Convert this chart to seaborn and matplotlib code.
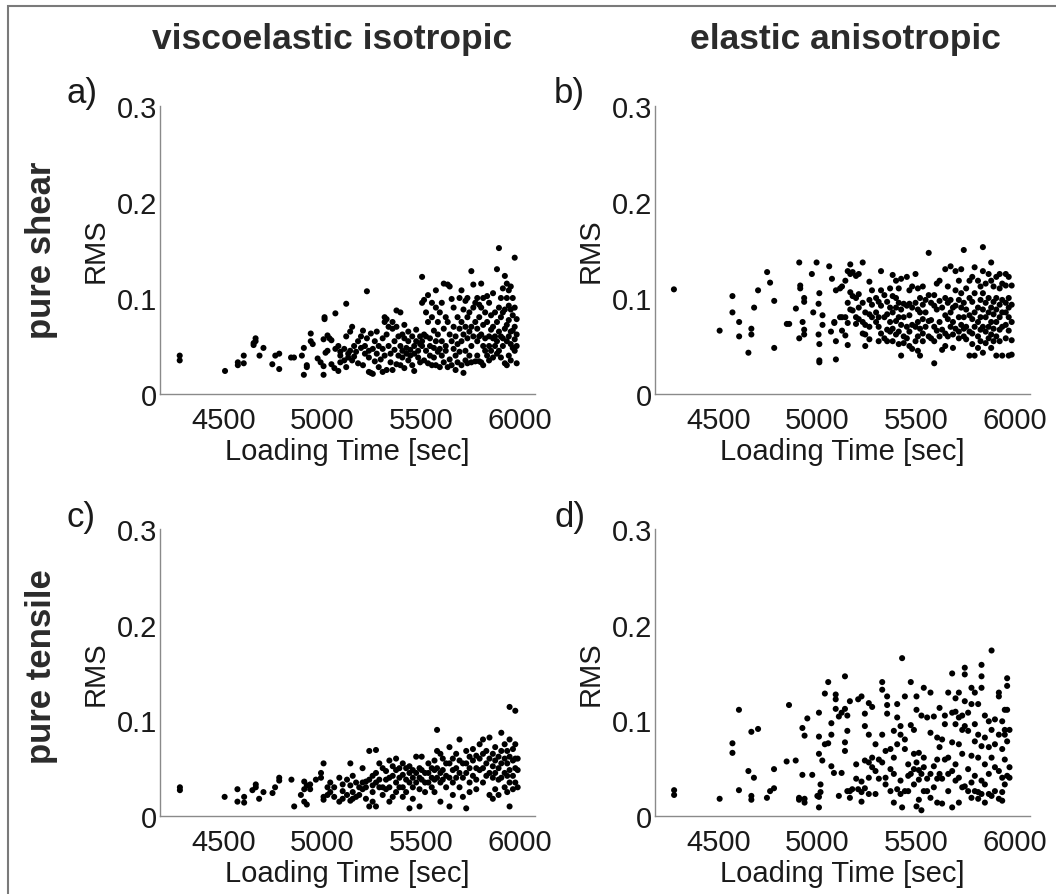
import matplotlib
matplotlib.use("Agg")
import matplotlib.pyplot as plt
import pandas as pd
import seaborn as sns
from matplotlib.patches import Rectangle

# ---------------------------------------------------------------------------
# Data: loading time [s] and the RMS values recorded at that time
# ---------------------------------------------------------------------------
# a) pure shear, viscoelastic isotropic
a_time = [4275, 4505, 4570, 4600, 4650, 4660, 4680, 4700, 4745, 4760, 4780, 4840, 4855,
          4895, 4905, 4920, 4940, 4950, 4975, 4990,
          5005, 5010, 5015, 5025, 5035, 5045, 5060, 5065, 5080, 5090,
          5110, 5120, 5130, 5140, 5150, 5160, 5170, 5180, 5195,
          5205, 5215, 5225, 5235, 5245, 5255, 5265, 5275, 5285, 5295,
          5305, 5315, 5325, 5335, 5345, 5355, 5365, 5375, 5385, 5395,
          5405, 5415, 5425, 5435, 5445, 5455, 5465, 5475, 5485, 5495,
          5505, 5515, 5525, 5535, 5545, 5555, 5565, 5575, 5585, 5595,
          5605, 5615, 5625, 5635, 5645, 5655, 5665, 5675, 5685, 5695,
          5705, 5715, 5725, 5735, 5745, 5755, 5765, 5775, 5785, 5795,
          5805, 5815, 5825, 5835, 5845, 5855, 5865, 5875, 5885, 5895,
          5905, 5915, 5925, 5935, 5945, 5955, 5965, 5975, 5985]
a_rms = [[0.040, 0.035], [0.024], [0.033, 0.030], [0.032, 0.040], [0.053, 0.051],
         [0.058, 0.055], [0.040], [0.048], [0.031], [0.040], [0.042, 0.026], [0.038], [0.038],
         [0.040], [0.020, 0.048], [0.030, 0.028], [0.063, 0.055], [0.052], [0.037], [0.033],
         [0.057, 0.029, 0.020], [0.080, 0.078], [0.043], [0.061, 0.045], [0.058],
         [0.031, 0.056], [0.027], [0.084, 0.047], [0.024, 0.050], [0.033, 0.044, 0.040],
         [0.047, 0.035], [0.094, 0.028, 0.060], [0.038, 0.042], [0.065, 0.045], [0.035, 0.070],
         [0.050, 0.039], [0.044], [0.032, 0.055], [0.060, 0.048],
         [0.030, 0.066], [0.050, 0.042], [0.107, 0.058], [0.045, 0.023, 0.038], [0.022, 0.063],
         [0.047, 0.021], [0.055, 0.034], [0.065, 0.042], [0.028, 0.050], [0.036],
         [0.047, 0.058, 0.023], [0.080, 0.075, 0.040], [0.025, 0.062, 0.078], [0.050, 0.070],
         [0.042, 0.033], [0.068, 0.075, 0.025], [0.046, 0.055], [0.087, 0.070, 0.031],
         [0.040, 0.060], [0.085, 0.050, 0.030],
         [0.062, 0.045, 0.038], [0.027, 0.058, 0.072], [0.042, 0.048], [0.055, 0.035, 0.065],
         [0.040, 0.046], [0.060, 0.030], [0.050, 0.042, 0.024], [0.067, 0.055], [0.045, 0.038],
         [0.060, 0.052, 0.033],
         [0.122, 0.095, 0.055, 0.050], [0.098, 0.062, 0.035], [0.060, 0.045, 0.085],
         [0.103, 0.075, 0.032], [0.058, 0.050, 0.040], [0.095, 0.080, 0.030],
         [0.066, 0.048, 0.038], [0.108, 0.090, 0.055, 0.030], [0.075, 0.062, 0.044],
         [0.085, 0.047, 0.028],
         [0.095, 0.055, 0.040], [0.115, 0.068, 0.033], [0.080, 0.050, 0.045],
         [0.114, 0.075, 0.028], [0.112, 0.062, 0.036], [0.099, 0.055, 0.030],
         [0.090, 0.070, 0.047], [0.060, 0.040, 0.025], [0.080, 0.052, 0.033],
         [0.100, 0.068, 0.044],
         [0.108, 0.075, 0.055, 0.030], [0.088, 0.062, 0.022], [0.097, 0.070, 0.045, 0.035],
         [0.100, 0.080, 0.058, 0.032], [0.085, 0.065, 0.040], [0.128, 0.070, 0.050, 0.033],
         [0.114, 0.090, 0.060], [0.095, 0.075, 0.034], [0.100, 0.068, 0.055, 0.040],
         [0.093, 0.080, 0.060, 0.034],
         [0.115, 0.090, 0.062, 0.033], [0.100, 0.072, 0.050, 0.030], [0.085, 0.058, 0.045],
         [0.102, 0.075, 0.040], [0.095, 0.060, 0.050, 0.035], [0.082, 0.067, 0.045],
         [0.105, 0.070, 0.058, 0.038], [0.085, 0.060, 0.050], [0.130, 0.075, 0.055, 0.042],
         [0.152, 0.090, 0.065, 0.045],
         [0.100, 0.080, 0.060, 0.038], [0.110, 0.085, 0.058, 0.050], [0.123, 0.088, 0.068, 0.032],
         [0.115, 0.100, 0.072, 0.055, 0.030], [0.108, 0.092, 0.077, 0.060, 0.040],
         [0.112, 0.088, 0.065, 0.052, 0.035], [0.100, 0.082, 0.066, 0.048],
         [0.142, 0.090, 0.070, 0.057, 0.045], [0.078, 0.062, 0.050, 0.032]]

# b) pure shear, elastic anisotropic
b_time = [4271, 4503, 4568, 4602, 4649, 4664, 4678, 4698, 4744, 4759, 4780, 4844, 4856,
          4890, 4907, 4912, 4924, 4932, 4971, 4978, 4995,
          5005, 5009, 5025, 5059, 5068, 5073, 5085, 5093,
          5114, 5124, 5141, 5153, 5166, 5178, 5195,
          5209, 5229, 5242, 5263, 5276, 5297,
          5310, 5322, 5339, 5353, 5368, 5381, 5398,
          5412, 5424, 5437, 5453, 5466, 5480, 5497,
          5509, 5520, 5534, 5548, 5564, 5576, 5592,
          5605, 5619, 5632, 5648, 5661, 5675, 5687,
          5700, 5717, 5729, 5742, 5754, 5771, 5785, 5797,
          5814, 5827, 5839, 5853, 5868, 5881, 5893,
          5907, 5924, 5937, 5955, 5970, 5985]
b_rms = [[0.109], [0.066], [0.102, 0.085], [0.075, 0.060], [0.043], [0.068, 0.062], [0.090],
         [0.108], [0.127], [0.116], [0.097, 0.048], [0.073], [0.073],
         [0.089], [0.137, 0.058], [0.113, 0.110], [0.075], [0.100, 0.096, 0.067, 0.062],
         [0.125], [0.085], [0.137],
         [0.094, 0.062], [0.105, 0.052, 0.033, 0.035], [0.082, 0.072], [0.133], [0.065],
         [0.120], [0.075, 0.074], [0.055, 0.036, 0.108],
         [0.110, 0.080], [0.112, 0.066, 0.080], [0.118, 0.080, 0.061],
         [0.128, 0.095, 0.074, 0.051], [0.135, 0.125, 0.106, 0.088], [0.127, 0.102, 0.087],
         [0.123, 0.100, 0.080, 0.073],
         [0.125, 0.104, 0.090, 0.078], [0.137, 0.095, 0.075, 0.063], [0.085, 0.072, 0.062, 0.050],
         [0.117, 0.098, 0.083, 0.070, 0.057], [0.108, 0.093, 0.080], [0.100, 0.075, 0.085],
         [0.096, 0.080, 0.070, 0.055], [0.128, 0.108, 0.092, 0.063], [0.103, 0.080, 0.058],
         [0.096, 0.083, 0.067, 0.055], [0.110, 0.090, 0.075, 0.065],
         [0.124, 0.102, 0.085, 0.068, 0.055], [0.118, 0.100, 0.090, 0.076, 0.062],
         [0.110, 0.095, 0.080, 0.065, 0.052], [0.120, 0.088, 0.072, 0.040],
         [0.094, 0.080, 0.060, 0.053], [0.122, 0.092, 0.070, 0.058],
         [0.108, 0.094, 0.082, 0.065, 0.050], [0.112, 0.090, 0.072, 0.047],
         [0.125, 0.095, 0.070, 0.055],
         [0.110, 0.088, 0.075, 0.060, 0.045], [0.100, 0.085, 0.068, 0.040],
         [0.112, 0.093, 0.078, 0.063, 0.055], [0.098, 0.085, 0.070],
         [0.147, 0.103, 0.076, 0.060], [0.095, 0.077, 0.058],
         [0.103, 0.092, 0.070, 0.055, 0.032],
         [0.115, 0.088, 0.066], [0.118, 0.097, 0.075, 0.060], [0.090, 0.067, 0.046],
         [0.130, 0.100, 0.082, 0.063, 0.050], [0.112, 0.095, 0.078, 0.060],
         [0.133, 0.098, 0.085, 0.070], [0.090, 0.075, 0.062, 0.048],
         [0.128, 0.108, 0.092, 0.068], [0.118, 0.098, 0.080, 0.065, 0.058],
         [0.130, 0.105, 0.090, 0.072], [0.150, 0.095, 0.080, 0.068, 0.060],
         [0.110, 0.088, 0.070, 0.057], [0.118, 0.100, 0.082, 0.065, 0.040],
         [0.122, 0.096, 0.078, 0.063, 0.052], [0.132, 0.105, 0.085, 0.070, 0.040],
         [0.118, 0.090, 0.075, 0.060, 0.048], [0.112, 0.098, 0.080, 0.067, 0.055],
         [0.153, 0.128, 0.105, 0.088, 0.070, 0.043], [0.115, 0.095, 0.080, 0.065, 0.053],
         [0.125, 0.100, 0.085, 0.070, 0.058], [0.137, 0.118, 0.090, 0.075, 0.062, 0.048],
         [0.112, 0.096, 0.083, 0.068, 0.055],
         [0.122, 0.100, 0.088, 0.075, 0.060, 0.040], [0.125, 0.110, 0.093, 0.080, 0.067, 0.055],
         [0.115, 0.098, 0.085, 0.070, 0.040], [0.125, 0.113, 0.095, 0.085, 0.072, 0.058],
         [0.122, 0.100, 0.090, 0.080, 0.066, 0.040], [0.113, 0.093, 0.075, 0.056, 0.041]]

# c) pure tensile, viscoelastic isotropic
c_time = [4276, 4503, 4568, 4602, 4644, 4661, 4678, 4700, 4746, 4759, 4780, 4842, 4856,
          4890, 4907, 4920, 4937, 4966, 4992,
          5005, 5025, 5039, 5059, 5085, 5102, 5124, 5141, 5153, 5170, 5186,
          5203, 5220, 5237, 5254, 5271, 5288, 5305, 5322, 5339, 5356, 5373, 5390,
          5407, 5424, 5441, 5458, 5475, 5492, 5503, 5520, 5537, 5554, 5568, 5581, 5598,
          5610, 5627, 5644, 5661, 5678, 5695, 5712, 5729, 5746, 5763, 5780, 5797,
          5814, 5831, 5847, 5864, 5876, 5893, 5907, 5924, 5937, 5949, 5966, 5978, 5990]
c_rms = [[0.030, 0.027], [0.020], [0.028, 0.015], [0.020, 0.014], [0.027], [0.033, 0.030],
         [0.018], [0.025], [0.024], [0.030], [0.040, 0.037], [0.038], [0.010],
         [0.022], [0.036, 0.028, 0.015], [0.012, 0.032], [0.028, 0.033], [0.038], [0.045, 0.040],
         [0.055, 0.020, 0.017], [0.030, 0.022], [0.035, 0.025], [0.030, 0.020], [0.040, 0.015],
         [0.033, 0.026, 0.018], [0.038, 0.022], [0.055, 0.032, 0.016], [0.042, 0.025, 0.018],
         [0.035, 0.020], [0.030, 0.022],
         [0.050, 0.035, 0.028], [0.036, 0.030, 0.018], [0.068, 0.038, 0.010],
         [0.042, 0.032, 0.025, 0.015], [0.069, 0.045, 0.035, 0.010], [0.055, 0.038, 0.030],
         [0.050, 0.030, 0.022], [0.047, 0.038, 0.028], [0.058, 0.040, 0.030, 0.015],
         [0.052, 0.042, 0.020], [0.060, 0.048, 0.035, 0.025], [0.050, 0.040, 0.030],
         [0.055, 0.043, 0.030, 0.020], [0.050, 0.038, 0.025], [0.052, 0.045, 0.035, 0.008],
         [0.048, 0.040, 0.030, 0.018], [0.062, 0.045, 0.035], [0.050, 0.040, 0.028, 0.010],
         [0.062, 0.048, 0.038], [0.045, 0.035, 0.025], [0.055, 0.045, 0.035],
         [0.050, 0.040, 0.030], [0.058, 0.048, 0.038, 0.025], [0.090, 0.068, 0.050, 0.040],
         [0.065, 0.045, 0.035, 0.015],
         [0.060, 0.048, 0.038], [0.055, 0.042, 0.030], [0.072, 0.055, 0.040, 0.010],
         [0.060, 0.048, 0.035, 0.022], [0.065, 0.050, 0.040], [0.080, 0.058, 0.045, 0.030],
         [0.055, 0.040, 0.020], [0.068, 0.055, 0.045, 0.008], [0.062, 0.050, 0.035, 0.025],
         [0.070, 0.058, 0.042], [0.063, 0.050, 0.038, 0.028], [0.075, 0.060, 0.048],
         [0.080, 0.065, 0.050, 0.035], [0.068, 0.055, 0.042], [0.082, 0.060, 0.045, 0.022],
         [0.065, 0.052, 0.040, 0.018], [0.072, 0.058, 0.045, 0.028], [0.062, 0.050, 0.038, 0.022],
         [0.087, 0.068, 0.055, 0.040], [0.075, 0.060, 0.045, 0.030], [0.068, 0.055, 0.042, 0.025],
         [0.114, 0.080, 0.062, 0.048, 0.035, 0.010], [0.070, 0.058, 0.042, 0.028],
         [0.110, 0.075, 0.060, 0.050, 0.035], [0.060, 0.048, 0.030]]

# d) pure tensile, elastic anisotropic
d_time = [4272, 4503, 4568, 4601, 4649, 4664, 4677, 4698, 4743, 4759, 4779, 4843, 4855,
          4889, 4906, 4923, 4934, 4948, 4973, 4999,
          5007, 5015, 5024, 5037, 5054, 5070, 5083, 5092,
          5108, 5122, 5139, 5151, 5164, 5176, 5196,
          5206, 5223, 5240, 5260, 5277, 5294,
          5311, 5328, 5345, 5353, 5370, 5387,
          5404, 5421, 5429, 5443, 5460, 5473, 5489,
          5502, 5514, 5527, 5539, 5556, 5573, 5590,
          5607, 5619, 5632, 5646, 5663, 5683,
          5700, 5717, 5734, 5747, 5764, 5781, 5798,
          5815, 5832, 5849, 5869, 5883,
          5900, 5920, 5937, 5950, 5962, 5974]
d_rms = [[0.027, 0.022], [0.018], [0.076, 0.066], [0.111, 0.027], [0.047],
         [0.088, 0.021, 0.017], [0.040], [0.091], [0.019], [0.026], [0.049, 0.029], [0.057],
         [0.116],
         [0.058], [0.019, 0.017], [0.092, 0.043], [0.084, 0.018, 0.014], [0.102], [0.043],
         [0.021],
         [0.108, 0.083, 0.065, 0.020, 0.009], [0.033, 0.025], [0.058], [0.128, 0.075],
         [0.140, 0.076], [0.097, 0.085, 0.052], [0.045], [0.127, 0.122, 0.112],
         [0.104, 0.021], [0.108, 0.045], [0.146, 0.112, 0.077, 0.068], [0.105, 0.089, 0.026],
         [0.120, 0.026, 0.019], [0.028], [0.054, 0.039],
         [0.122, 0.028], [0.125, 0.036, 0.025, 0.015], [0.107, 0.094, 0.058, 0.029],
         [0.118, 0.085, 0.056, 0.040, 0.023], [0.114, 0.061, 0.051], [0.075, 0.047, 0.023],
         [0.059, 0.039], [0.140, 0.132, 0.085, 0.056], [0.068, 0.040, 0.033],
         [0.125, 0.116, 0.107], [0.070, 0.049, 0.026], [0.089, 0.061, 0.044, 0.014],
         [0.117, 0.103, 0.075, 0.028], [0.094, 0.085, 0.037, 0.023], [0.165, 0.009],
         [0.125, 0.080, 0.070, 0.026], [0.054, 0.042, 0.026], [0.140, 0.095, 0.044],
         [0.090, 0.065, 0.049, 0.033],
         [0.125, 0.111, 0.056, 0.010], [0.066, 0.048, 0.038, 0.017], [0.105, 0.044, 0.006],
         [0.134, 0.061, 0.051, 0.026], [0.103, 0.039, 0.026], [0.129, 0.087, 0.044, 0.019],
         [0.104, 0.052, 0.030],
         [0.082, 0.059, 0.039, 0.014], [0.113, 0.072, 0.044], [0.080, 0.039, 0.013],
         [0.105, 0.096, 0.059], [0.129, 0.061, 0.044, 0.026], [0.149, 0.108, 0.077, 0.047, 0.009],
         [0.123, 0.109, 0.096, 0.054, 0.037], [0.129, 0.103, 0.075, 0.040, 0.014],
         [0.105, 0.090, 0.065, 0.030], [0.155, 0.148, 0.120, 0.094, 0.031],
         [0.108, 0.089, 0.049, 0.026], [0.134, 0.117, 0.063, 0.035, 0.019],
         [0.129, 0.096, 0.078, 0.042, 0.026],
         [0.117, 0.085, 0.061, 0.025, 0.018], [0.158, 0.146, 0.134, 0.073, 0.037, 0.023],
         [0.105, 0.082, 0.054, 0.033, 0.014], [0.099, 0.072, 0.044, 0.023],
         [0.173, 0.090, 0.061, 0.021],
         [0.101, 0.075, 0.051, 0.026], [0.129, 0.125, 0.085, 0.047, 0.018],
         [0.099, 0.070, 0.040, 0.025, 0.016], [0.111, 0.090, 0.085, 0.059, 0.033],
         [0.144, 0.136, 0.111, 0.078, 0.042], [0.090, 0.051, 0.040]]

column_titles = ["viscoelastic isotropic", "elastic anisotropic"]
row_titles = ["pure shear", "pure tensile"]
panel_letters = ["a)", "b)", "c)", "d)"]
x_ticks = [4500, 5000, 5500, 6000]
y_ticks = [0, 0.1, 0.2, 0.3]
y_tick_labels = ["0", "0.1", "0.2", "0.3"]
x_label = "Loading Time [sec]"
y_label = "RMS"


def to_frame(times, groups):
    rows = [(t, v) for t, g in zip(times, groups) for v in g]
    return pd.DataFrame(rows, columns=["time", "rms"])


panels = [to_frame(a_time, a_rms), to_frame(b_time, b_rms),
          to_frame(c_time, c_rms), to_frame(d_time, d_rms)]

sns.set_style("white")
plt.rcParams["font.family"] = ["Liberation Sans", "DejaVu Sans"]

W, H = 1056, 895
fig = plt.figure(figsize=(W / 100, H / 100), dpi=100)
fig.patch.set_facecolor("white")

# axes boxes in pixels: left, top, right, bottom
boxes = [(160, 107, 535, 395), (655, 107, 1030, 395),
         (160, 530, 535, 817), (655, 530, 1030, 817)]

spine_col = "#8a8a8a"
text_col = "#1a1a1a"

for i, (df, (l, t, r, b)) in enumerate(zip(panels, boxes)):
    ax = fig.add_axes([l / W, 1 - b / H, (r - l) / W, (b - t) / H])
    sns.scatterplot(data=df, x="time", y="rms", ax=ax, color="black",
                    s=19, linewidth=0, edgecolor="none", legend=False)
    ax.set_xlim(4175, 6078)
    ax.set_ylim(0, 0.3)
    ax.set_xticks(x_ticks)
    ax.set_xticklabels([str(v) for v in x_ticks])
    ax.set_yticks(y_ticks)
    ax.set_yticklabels(y_tick_labels)
    for side in ("top", "right"):
        ax.spines[side].set_visible(False)
    for side in ("left", "bottom"):
        ax.spines[side].set_color(spine_col)
        ax.spines[side].set_linewidth(1.0)
    ax.tick_params(axis="both", direction="in", length=4, width=0.8,
                   color=spine_col, labelcolor=text_col, labelsize=21)
    ax.tick_params(axis="x", pad=9)
    ax.tick_params(axis="y", pad=2)
    ax.set_xlabel(x_label, fontsize=21, color=text_col, labelpad=2)
    ax.set_ylabel(y_label, fontsize=21, color=text_col, labelpad=5)
    ax.patch.set_alpha(0)
    # panel letter
    lx = 66 if i % 2 == 0 else 554
    fig.text(lx / W, 1 - (t - 13) / H, panel_letters[i], fontsize=25,
             color=text_col, ha="left", va="center")

# column headings
for cx, title in zip([332, 845], column_titles):
    fig.text(cx / W, 1 - 40 / H, title, fontsize=25.5, fontweight="bold",
             color="#2b2b2b", ha="center", va="center")

# row headings
for cy, title in zip([250, 667], row_titles):
    fig.text(42 / W, 1 - cy / H, title, fontsize=25, fontweight="bold",
             color="#2b2b2b", ha="center", va="center", rotation=90)

# outer frame (left and top edges visible)
fig.add_artist(Rectangle((8 / W, -0.5), 2.0, 1.5 - 7 / H, transform=fig.transFigure,
                         fill=False, edgecolor="#7a7a7a", linewidth=1.5, clip_on=False))

fig.savefig("out.png", dpi=100, facecolor="white")
